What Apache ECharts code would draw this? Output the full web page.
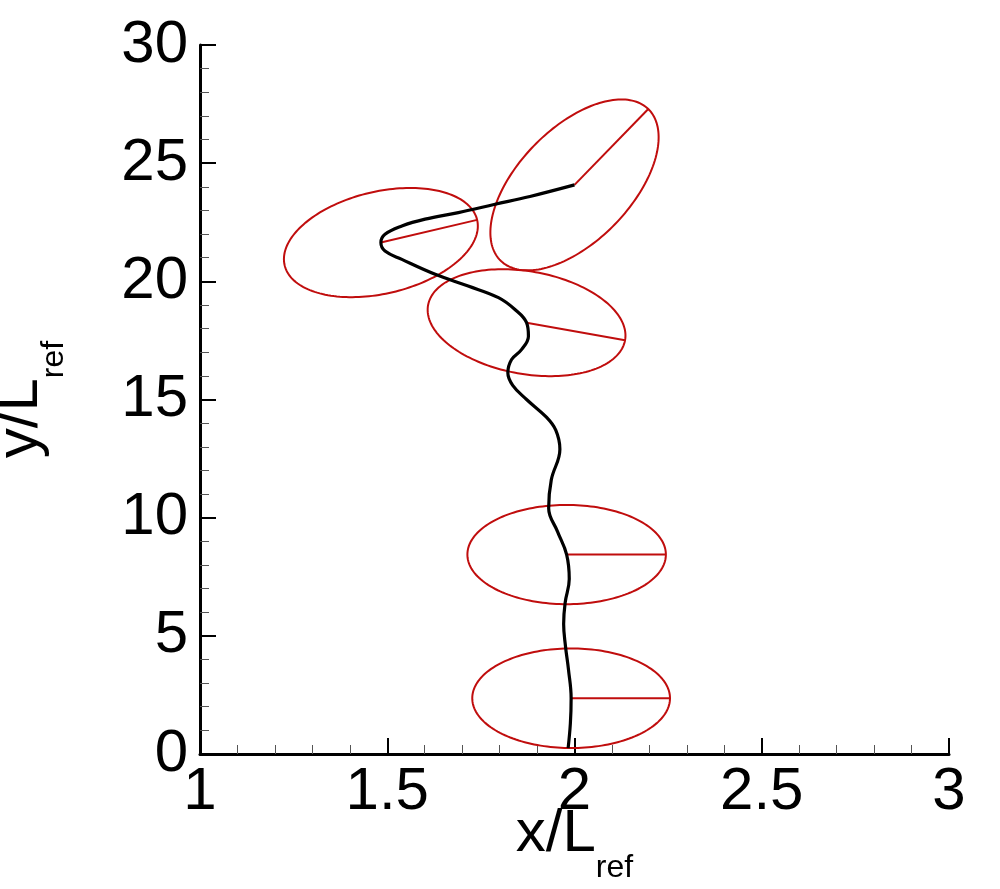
<!DOCTYPE html>
<html>
<head>
<meta charset="utf-8">
<script src="https://cdn.jsdelivr.net/npm/echarts@6/dist/echarts.min.js"></script>
<style>
html,body{margin:0;padding:0;background:#fff;}
#chart{width:1000px;height:889px;}
</style>
</head>
<body>
<div id="chart"></div>
<script>
// Trajectory (x/Lref, y/Lref)
const trajX = [1.983,1.989,1.991,1.984,1.976,1.971,1.975,1.986,1.979,1.955,1.931,1.938,1.961,1.950,1.925,1.872,1.835,1.822,1.832,1.859,1.877,1.872,1.841,1.797,1.716,1.628,1.539,1.494,1.483,1.494,1.539,1.601,1.690,1.788,1.881,2.000];
const trajY = [0.25,1.3,2.36,3.56,4.55,5.5,6.4,7.4,8.44,9.4,10.4,11.6,12.9,13.7,14.25,15.0,15.6,16.13,16.69,17.12,17.68,18.25,18.81,19.31,19.80,20.30,20.93,21.28,21.64,21.99,22.34,22.63,22.91,23.26,23.59,24.08];

// Ellipses: centre, end of major semi-axis, minor/major ratio
const ellCx = [1.991,1.979,1.872,1.483,2.000];
const ellCy = [2.36,8.44,18.25,21.64,24.08];
const ellEx = [2.255,2.244,2.135,1.740,2.197];
const ellEy = [2.36,8.44,17.51,22.60,27.29];
const ellRatio = [0.504,0.50,0.513,0.516,0.533];

const xTicks = {min:1,max:3,interval:0.5};
const yTicks = {min:0,max:30,interval:5};

const RED = '#c00d0d';
const FONT = 'Liberation Sans';

const trajData = trajX.map((x,i)=>[x,trajY[i]]);
const ellData = ellCx.map((x,i)=>[x,ellCy[i],ellEx[i],ellEy[i],ellRatio[i]]);

const chart = echarts.init(document.getElementById('chart'), null, {renderer:'canvas'});

const nameRich = {
  m:{fontSize:60,lineHeight:60,verticalAlign:'top',fontFamily:FONT,color:'#000'},
  s:{fontSize:32,lineHeight:80,verticalAlign:'bottom',fontFamily:FONT,color:'#000'}
};

chart.setOption({
  animation:false,
  backgroundColor:'#fff',
  grid:{left:200,right:51,top:45,bottom:135,outerBoundsMode:'none'},
  xAxis:{
    type:'value',min:xTicks.min,max:xTicks.max,interval:xTicks.interval,
    name:'{m|x/L}{s|ref}',nameLocation:'middle',nameGap:50,nameMoveOverlap:false,
    nameTextStyle:{rich:nameRich},
    axisLine:{show:true,onZero:false,lineStyle:{color:'#000',width:3}},
    axisTick:{show:true,inside:true,length:16,lineStyle:{color:'#000',width:2}},
    minorTick:{show:true,splitNumber:5,length:9,lineStyle:{color:'#555',width:1}},
    axisLabel:{fontSize:60,fontFamily:FONT,color:'#000',margin:8,showMinLabel:true,showMaxLabel:true},
    splitLine:{show:false},minorSplitLine:{show:false}
  },
  yAxis:{
    type:'value',min:yTicks.min,max:yTicks.max,interval:yTicks.interval,
    name:'{m|y/L}{s|ref}',nameLocation:'middle',nameGap:130,nameMoveOverlap:false,
    nameTextStyle:{rich:nameRich},
    axisLine:{show:true,onZero:false,lineStyle:{color:'#000',width:3}},
    axisTick:{show:true,inside:true,length:16,lineStyle:{color:'#000',width:2}},
    minorTick:{show:true,splitNumber:5,length:9,lineStyle:{color:'#555',width:1}},
    axisLabel:{fontSize:60,fontFamily:FONT,color:'#000',margin:12,showMinLabel:true,showMaxLabel:true},
    splitLine:{show:false},minorSplitLine:{show:false}
  },
  series:[
    {
      type:'custom',
      coordinateSystem:'cartesian2d',
      data:ellData,
      encode:{x:[0,2],y:[1,3]},
      z:2,
      renderItem:function(params, api){
        const c = api.coord([api.value(0), api.value(1)]);
        const e = api.coord([api.value(2), api.value(3)]);
        const r = api.value(4);
        const ux = e[0]-c[0], uy = e[1]-c[1];
        const vx = -uy*r, vy = ux*r;
        const pts = [];
        const N = 180;
        for (let i=0;i<N;i++){
          const t = 2*Math.PI*i/N;
          pts.push([c[0]+Math.cos(t)*ux+Math.sin(t)*vx, c[1]+Math.cos(t)*uy+Math.sin(t)*vy]);
        }
        return {type:'group',children:[
          {type:'polygon',shape:{points:pts},style:{fill:null,stroke:RED,lineWidth:2}},
          {type:'line',shape:{x1:c[0],y1:c[1],x2:e[0],y2:e[1]},style:{stroke:RED,lineWidth:2}}
        ]};
      }
    },
    {
      type:'line',
      data:trajData,
      showSymbol:false,
      smooth:0.4,
      z:3,
      lineStyle:{color:'#000',width:3.2},
      itemStyle:{color:'#000'}
    }
  ]
});
</script>
</body>
</html>
